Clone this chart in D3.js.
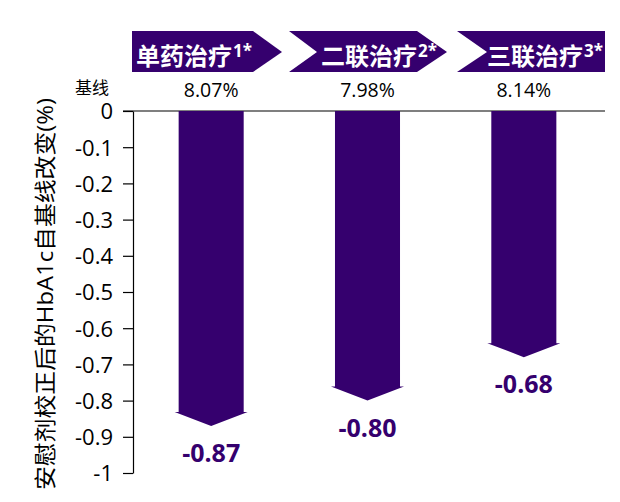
<!DOCTYPE html>
<html><head><meta charset="utf-8">
<script src="https://cdn.jsdelivr.net/npm/d3@7"></script>
<style>
html,body{margin:0;padding:0;background:#fff;}
svg{display:block;}
text{font-family:"Open Sans","Noto Sans CJK SC",sans-serif;}
</style></head>
<body>
<svg id="c" width="620" height="502"></svg>
<script>
// ---- data ----
const categories = ["单药治疗", "二联治疗", "三联治疗"];
const superscripts = ["1*", "2*", "3*"];
const baselineValues = ["8.07%", "7.98%", "8.14%"];
const changeValues = [-0.87, -0.80, -0.68];
const changeLabels = ["-0.87", "-0.80", "-0.68"];
const tickValues = [0, -0.1, -0.2, -0.3, -0.4, -0.5, -0.6, -0.7, -0.8, -0.9, -1];
const tickLabels = ["0", "-0.1", "-0.2", "-0.3", "-0.4", "-0.5", "-0.6", "-0.7", "-0.8", "-0.9", "-1"];
const yTitle = "安慰剂校正后的HbA1c自基线改变(%)";
const baselineTitle = "基线";

// ---- layout ----
const purple = "#35006E";
const svg = d3.select("#c");
const y = d3.scaleLinear().domain([-1, 0]).range([473, 111]);
const x = d3.scaleBand().domain(categories).range([133, 602]).paddingInner(0.584).paddingOuter(0.292);

// top line
svg.append("line").attr("x1", 123).attr("x2", 605).attr("y1", y(0)).attr("y2", y(0))
  .attr("stroke", "#000").attr("stroke-width", 1.2);

// axis
const axis = d3.axisLeft(y).tickValues(tickValues).tickSize(10).tickSizeOuter(0)
  .tickFormat((d, i) => tickLabels[i]);
const ga = svg.append("g").attr("transform", "translate(133,0)").call(axis);
ga.select(".domain").attr("stroke", "#000").attr("stroke-width", 1.2);
ga.selectAll(".tick line").attr("stroke", "#000").attr("stroke-width", 1.2);
ga.selectAll(".tick text").attr("x", -20).attr("dy", "0.36em")
  .style("font-size", "22px").style("font-family", "'Open Sans','Noto Sans CJK SC',sans-serif").attr("fill", "#000");

// y title
svg.append("text").attr("transform", "translate(53,294) rotate(-90)")
  .attr("text-anchor", "middle").style("font-size", "22px").attr("fill", "#000")
  .attr("textLength", 392).attr("lengthAdjust", "spacingAndGlyphs")
  .text(yTitle);

// baseline title
svg.append("text").attr("x", 92).attr("y", 94).attr("text-anchor", "middle")
  .style("font-size", "17px").attr("fill", "#000").text(baselineTitle);

// banners (decorative chevrons)
const bannerShapes = [
  [[132,31],[253,31],[282,52],[253,72],[132,72]],
  [[289,31],[417,31],[447,52],[417,72],[289,72],[317,52]],
  [[457,31],[605,31],[605,72],[457,72],[487,52]]
];
const bannerTextX = [136, 321, 487];
svg.selectAll("polygon.banner").data(bannerShapes).join("polygon")
  .attr("class", "banner").attr("points", d => d.map(p => p.join(",")).join(" "))
  .attr("fill", purple);
const bt = svg.selectAll("text.btxt").data(categories).join("text")
  .attr("class", "btxt").attr("x", (d, i) => bannerTextX[i]).attr("y", 65)
  .attr("fill", "#fff").style("font-weight", "bold").style("font-size", "24px")
  .style("font-family", "'Noto Sans CJK SC',sans-serif");
bt.append("tspan").text(d => d);
bt.append("tspan").attr("dy", -8).attr("dx", 1).style("font-size", "17px")
  .style("font-family", "'Open Sans',sans-serif").text((d, i) => superscripts[i]);

// baseline values
svg.selectAll("text.bv").data(baselineValues).join("text")
  .attr("class", "bv").attr("x", (d, i) => x(categories[i]) + x.bandwidth() / 2).attr("y", 97)
  .attr("text-anchor", "middle").style("font-size", "19.5px").attr("fill", "#000").text(d => d);

// arrows
const headH = 14, headExtra = 4;
svg.selectAll("path.arrow").data(changeValues).join("path")
  .attr("class", "arrow").attr("fill", purple)
  .attr("d", (v, i) => {
    const x0 = x(categories[i]), x1 = x0 + x.bandwidth(), cx = (x0 + x1) / 2;
    const tip = y(v), hs = tip - headH;
    return `M${x0},${y(0)}L${x1},${y(0)}L${x1},${hs}L${x1 + headExtra},${hs}L${cx},${tip}L${x0 - headExtra},${hs}L${x0},${hs}Z`;
  });

// value labels
svg.selectAll("text.vl").data(changeValues).join("text")
  .attr("class", "vl").attr("x", (v, i) => x(categories[i]) + x.bandwidth() / 2)
  .attr("y", v => y(v) + 36).attr("text-anchor", "middle")
  .style("font-size", "25px").style("font-weight", "bold").attr("fill", purple)
  .text((v, i) => changeLabels[i]);
</script>
</body></html>
